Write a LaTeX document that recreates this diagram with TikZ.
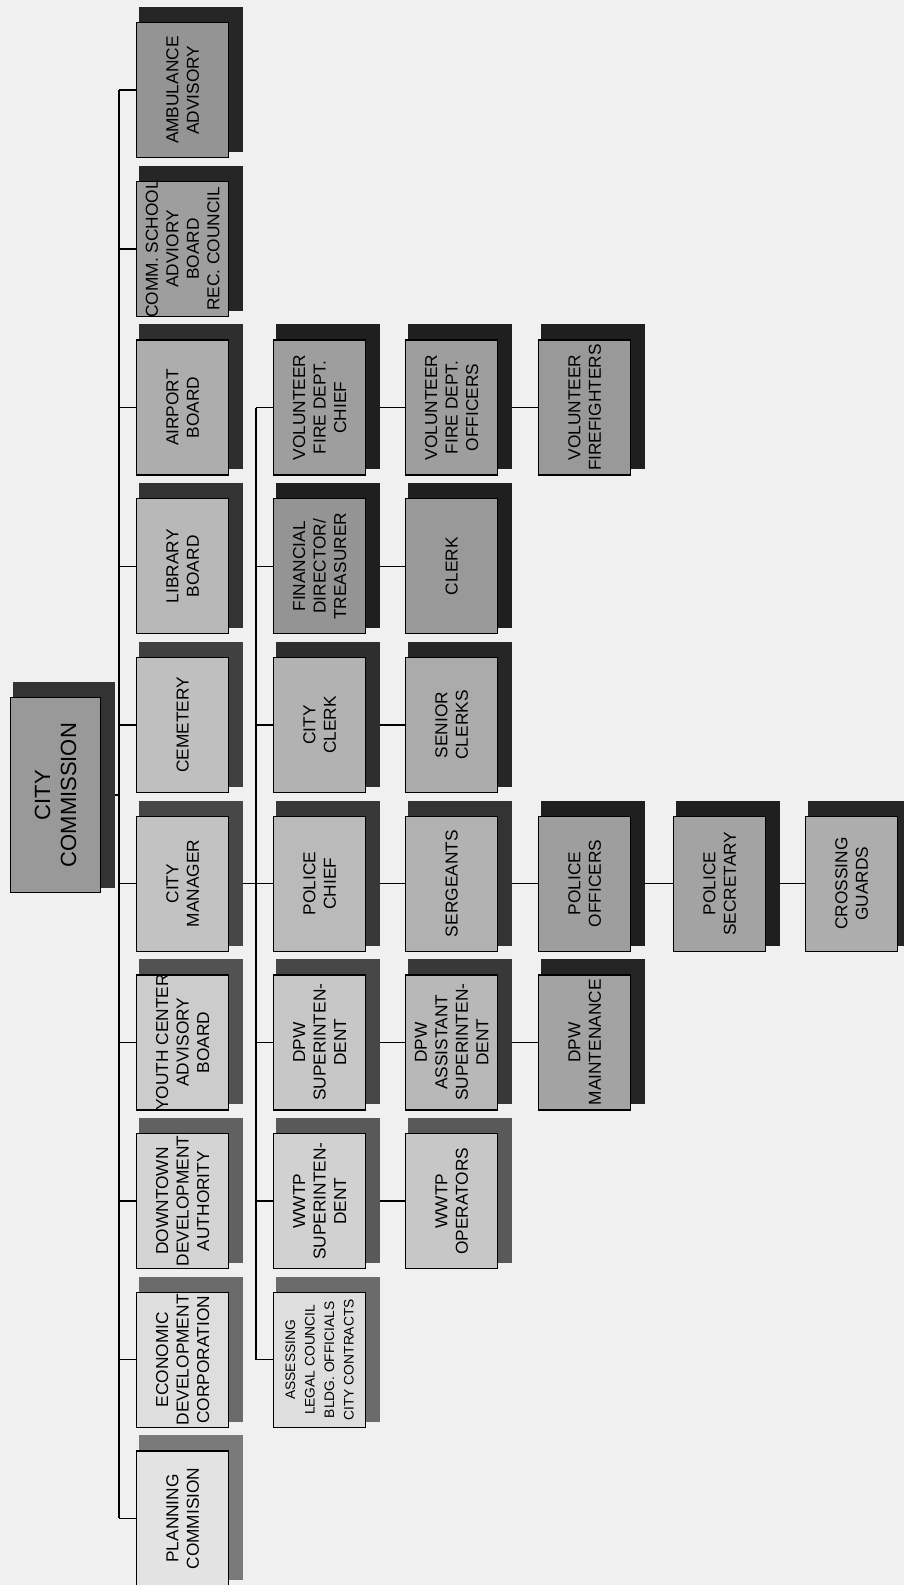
\documentclass[tikz,border=0pt]{standalone}
\usepackage{fontspec}
\setmainfont{Liberation Sans}
\usetikzlibrary{backgrounds}
\newcommand\obx[7]{%
  \fill[#5] ({#2+3},{-#3+15}) rectangle ({#2+107},{-#3-130});
  \node[bx, fill=#4, anchor=north west] (#1) at (#2,-#3) {};
  \node[lbl,#6] (#1t) at (#1.center) {#7};
}
\begin{document}
\begin{tikzpicture}[x=1pt,y=1pt,
  bx/.style={draw=black, line width=1.3pt, rectangle, minimum width=92pt, minimum height=135pt, inner sep=0pt},
  lbl/.style={rotate=90, align=center, inner sep=0pt, text=black, font=\fontsize{17.3}{20.5}\selectfont},
  big/.style={font=\fontsize{22}{26}\selectfont},
  small/.style={font=\fontsize{13.8}{19.5}\selectfont},
  conn/.style={draw=black, line width=1.4pt}]
\useasboundingbox (0,0) rectangle (904,-1585);
% City Commission
\fill[black!80] (13,-682) rectangle (115,-888);
\node[bx, fill=black!40, minimum width=90pt, minimum height=195pt, anchor=north west] (cc) at (10,-697) {};
\node[lbl,big] (cct) at (cc.center) {CITY\\COMMISSION};
% column 2
\obx{amb}{136}{22.0}{black!42}{black!85}{}{AMBULANCE\\ADVISORY}
\obx{com}{136}{180.7}{black!38}{black!85}{}{COMM. SCHOOL\\ADVIORY\\BOARD\\REC. COUNCIL}
\obx{air}{136}{339.4}{black!32}{black!82}{}{AIRPORT\\BOARD}
\obx{lib}{136}{498.1}{black!28}{black!80}{}{LIBRARY\\BOARD}
\obx{cem}{136}{656.8}{black!25}{black!75}{}{CEMETERY}
\obx{cm}{136}{815.5}{black!24}{black!72}{}{CITY\\MANAGER}
\obx{yth}{136}{974.2}{black!20}{black!68}{}{YOUTH CENTER\\ADVISORY\\BOARD}
\obx{dda}{136}{1132.9}{black!17}{black!62}{}{DOWNTOWN\\DEVELOPMENT\\AUTHORITY}
\obx{edc}{136}{1291.6}{black!13}{black!58}{}{ECONOMIC\\DEVELOPMENT\\CORPORATION}
\obx{pln}{136}{1450.3}{black!11}{black!52}{}{PLANNING\\COMMISION}
% column 3
\obx{vfc}{273}{339.4}{black!38}{black!88}{}{VOLUNTEER\\FIRE DEPT.\\CHIEF}
\obx{fin}{273}{498.1}{black!42}{black!88}{}{FINANCIAL\\DIRECTOR/\\TREASURER}
\obx{ccl}{273}{656.8}{black!30}{black!82}{}{CITY\\CLERK}
\obx{pch}{273}{815.5}{black!27}{black!78}{}{POLICE\\CHIEF}
\obx{dpw}{273}{974.2}{black!22}{black!72}{}{DPW\\SUPERINTEN-\\DENT}
\obx{wws}{273}{1132.9}{black!18}{black!65}{}{WWTP\\SUPERINTEN-\\DENT}
\obx{ass}{273}{1291.6}{black!13}{black!58}{small}{ASSESSING\\LEGAL COUNCIL\\BLDG. OFFICIALS\\CITY CONTRACTS}
% column 4
\obx{vfo}{405}{339.4}{black!38}{black!88}{}{VOLUNTEER\\FIRE DEPT.\\OFFICERS}
\obx{clk}{405}{498.1}{black!40}{black!88}{}{CLERK}
\obx{scl}{405}{656.8}{black!33}{black!85}{}{SENIOR\\CLERKS}
\obx{srg}{405}{815.5}{black!30}{black!80}{}{SERGEANTS}
\obx{dpa}{405}{974.2}{black!28}{black!78}{}{DPW\\ASSISTANT\\SUPERINTEN-\\DENT}
\obx{wwo}{405}{1132.9}{black!22}{black!65}{}{WWTP\\OPERATORS}
% column 5
\obx{vff}{538}{339.4}{black!40}{black!88}{}{VOLUNTEER\\FIREFIGHTERS}
\obx{pof}{538}{815.5}{black!38}{black!88}{}{POLICE\\OFFICERS}
\obx{dpm}{538}{974.2}{black!36}{black!86}{}{DPW\\MAINTENANCE}
% column 6 and 7
\obx{psc}{673}{815.5}{black!36}{black!88}{}{POLICE\\SECRETARY}
\obx{cgd}{805}{815.5}{black!32}{black!85}{}{CROSSING\\GUARDS}
\begin{pgfonlayer}{background}
\fill[black!6] (0,0) rectangle (904,-1585);
\coordinate (s2) at (119,0);
\coordinate (s3) at (256,0);
\draw[conn] (s2 |- amb.west) -- (s2 |- pln.west);
\draw[conn] (cc.east) -- (cc.east -| s2);
\foreach \n in {amb,com,air,lib,cem,cm,yth,dda,edc,pln}{
  \draw[conn] (s2 |- \n.west) -- (\n.west);
}
\draw[conn] (s3 |- vfc.west) -- (s3 |- ass.west);
\foreach \n in {vfc,fin,ccl,pch,dpw,wws,ass}{
  \draw[conn] (s3 |- \n.west) -- (\n.west);
}
\draw[conn] (cm.east) -- (s3 |- cm.east);
\draw[conn] (vfc.east) -- (vfo.west);
\draw[conn] (fin.east) -- (clk.west);
\draw[conn] (ccl.east) -- (scl.west);
\draw[conn] (pch.east) -- (srg.west);
\draw[conn] (dpw.east) -- (dpa.west);
\draw[conn] (wws.east) -- (wwo.west);
\draw[conn] (vfo.east) -- (vff.west);
\draw[conn] (srg.east) -- (pof.west);
\draw[conn] (dpa.east) -- (dpm.west);
\draw[conn] (pof.east) -- (psc.west);
\draw[conn] (psc.east) -- (cgd.west);
\end{pgfonlayer}
\end{tikzpicture}
\end{document}
